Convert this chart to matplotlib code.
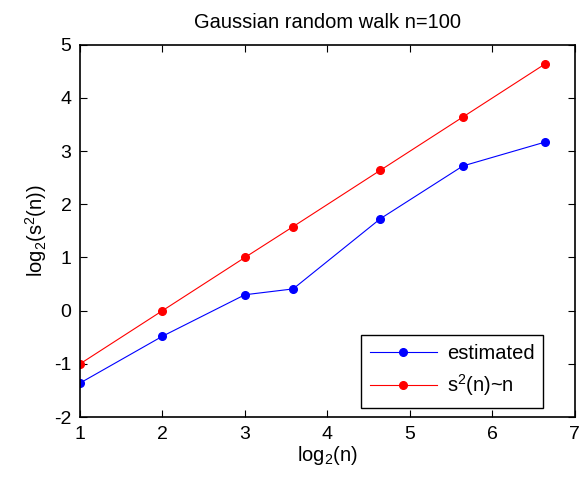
import numpy as np
import matplotlib.pyplot as plt

plt.rcParams['font.family'] = ['Liberation Sans', 'DejaVu Sans']
plt.rcParams['mathtext.fontset'] = 'custom'
plt.rcParams['mathtext.rm'] = 'Liberation Sans'
plt.rcParams['mathtext.it'] = 'Liberation Sans'
plt.rcParams['axes.unicode_minus'] = False

# walk lengths and measured variances (log2)
n_values = [2, 4, 8, 12, 25, 50, 100]
log2_n = np.log2(n_values)
estimated = [-1.36, -0.48, 0.30, 0.41, 1.73, 2.72, 3.17]
linear = [-1.0, 0.0, 1.0, 1.58, 2.64, 3.64, 4.64]

x_ticks = [1, 2, 3, 4, 5, 6, 7]
y_ticks = [-2, -1, 0, 1, 2, 3, 4, 5]


def main():
    fig = plt.figure(figsize=(5.83, 4.79), dpi=100)
    ax = fig.add_axes([0.137, 0.129, 0.849, 0.778])

    ax.plot(log2_n, estimated, color='blue', lw=0.8, marker='o', ms=5.5,
            label='estimated')
    ax.plot(log2_n, linear, color='red', lw=0.8, marker='o', ms=5.5,
            label=r'$\mathrm{s^2(n)}$~n')

    ax.set_xlim(1, 7)
    ax.set_ylim(-2, 5)
    ax.set_xticks(x_ticks)
    ax.set_yticks(y_ticks)
    ax.tick_params(direction='in', top=True, right=True, length=5,
                   width=0.8, labelsize=14, pad=6)
    for s in ax.spines.values():
        s.set_linewidth(1.2)

    ax.set_title('Gaussian random walk n=100', fontsize=14.5, pad=12)
    ax.set_xlabel(r'$\mathrm{log_2(n)}$', fontsize=14.5, labelpad=1)
    ax.set_ylabel(r'$\mathrm{log_2(s^2(n))}$', fontsize=14.5, labelpad=4)

    leg = ax.legend(loc='lower right', bbox_to_anchor=(0.957, -0.001),
                    fontsize=14.5, fancybox=False, framealpha=1,
                    edgecolor='black', handlelength=3.3, borderpad=0.45,
                    labelspacing=0.45, handletextpad=0.5)
    leg.get_frame().set_linewidth(1.0)

    fig.savefig('out.png', dpi=100)


if __name__ == "__main__":
    main()
